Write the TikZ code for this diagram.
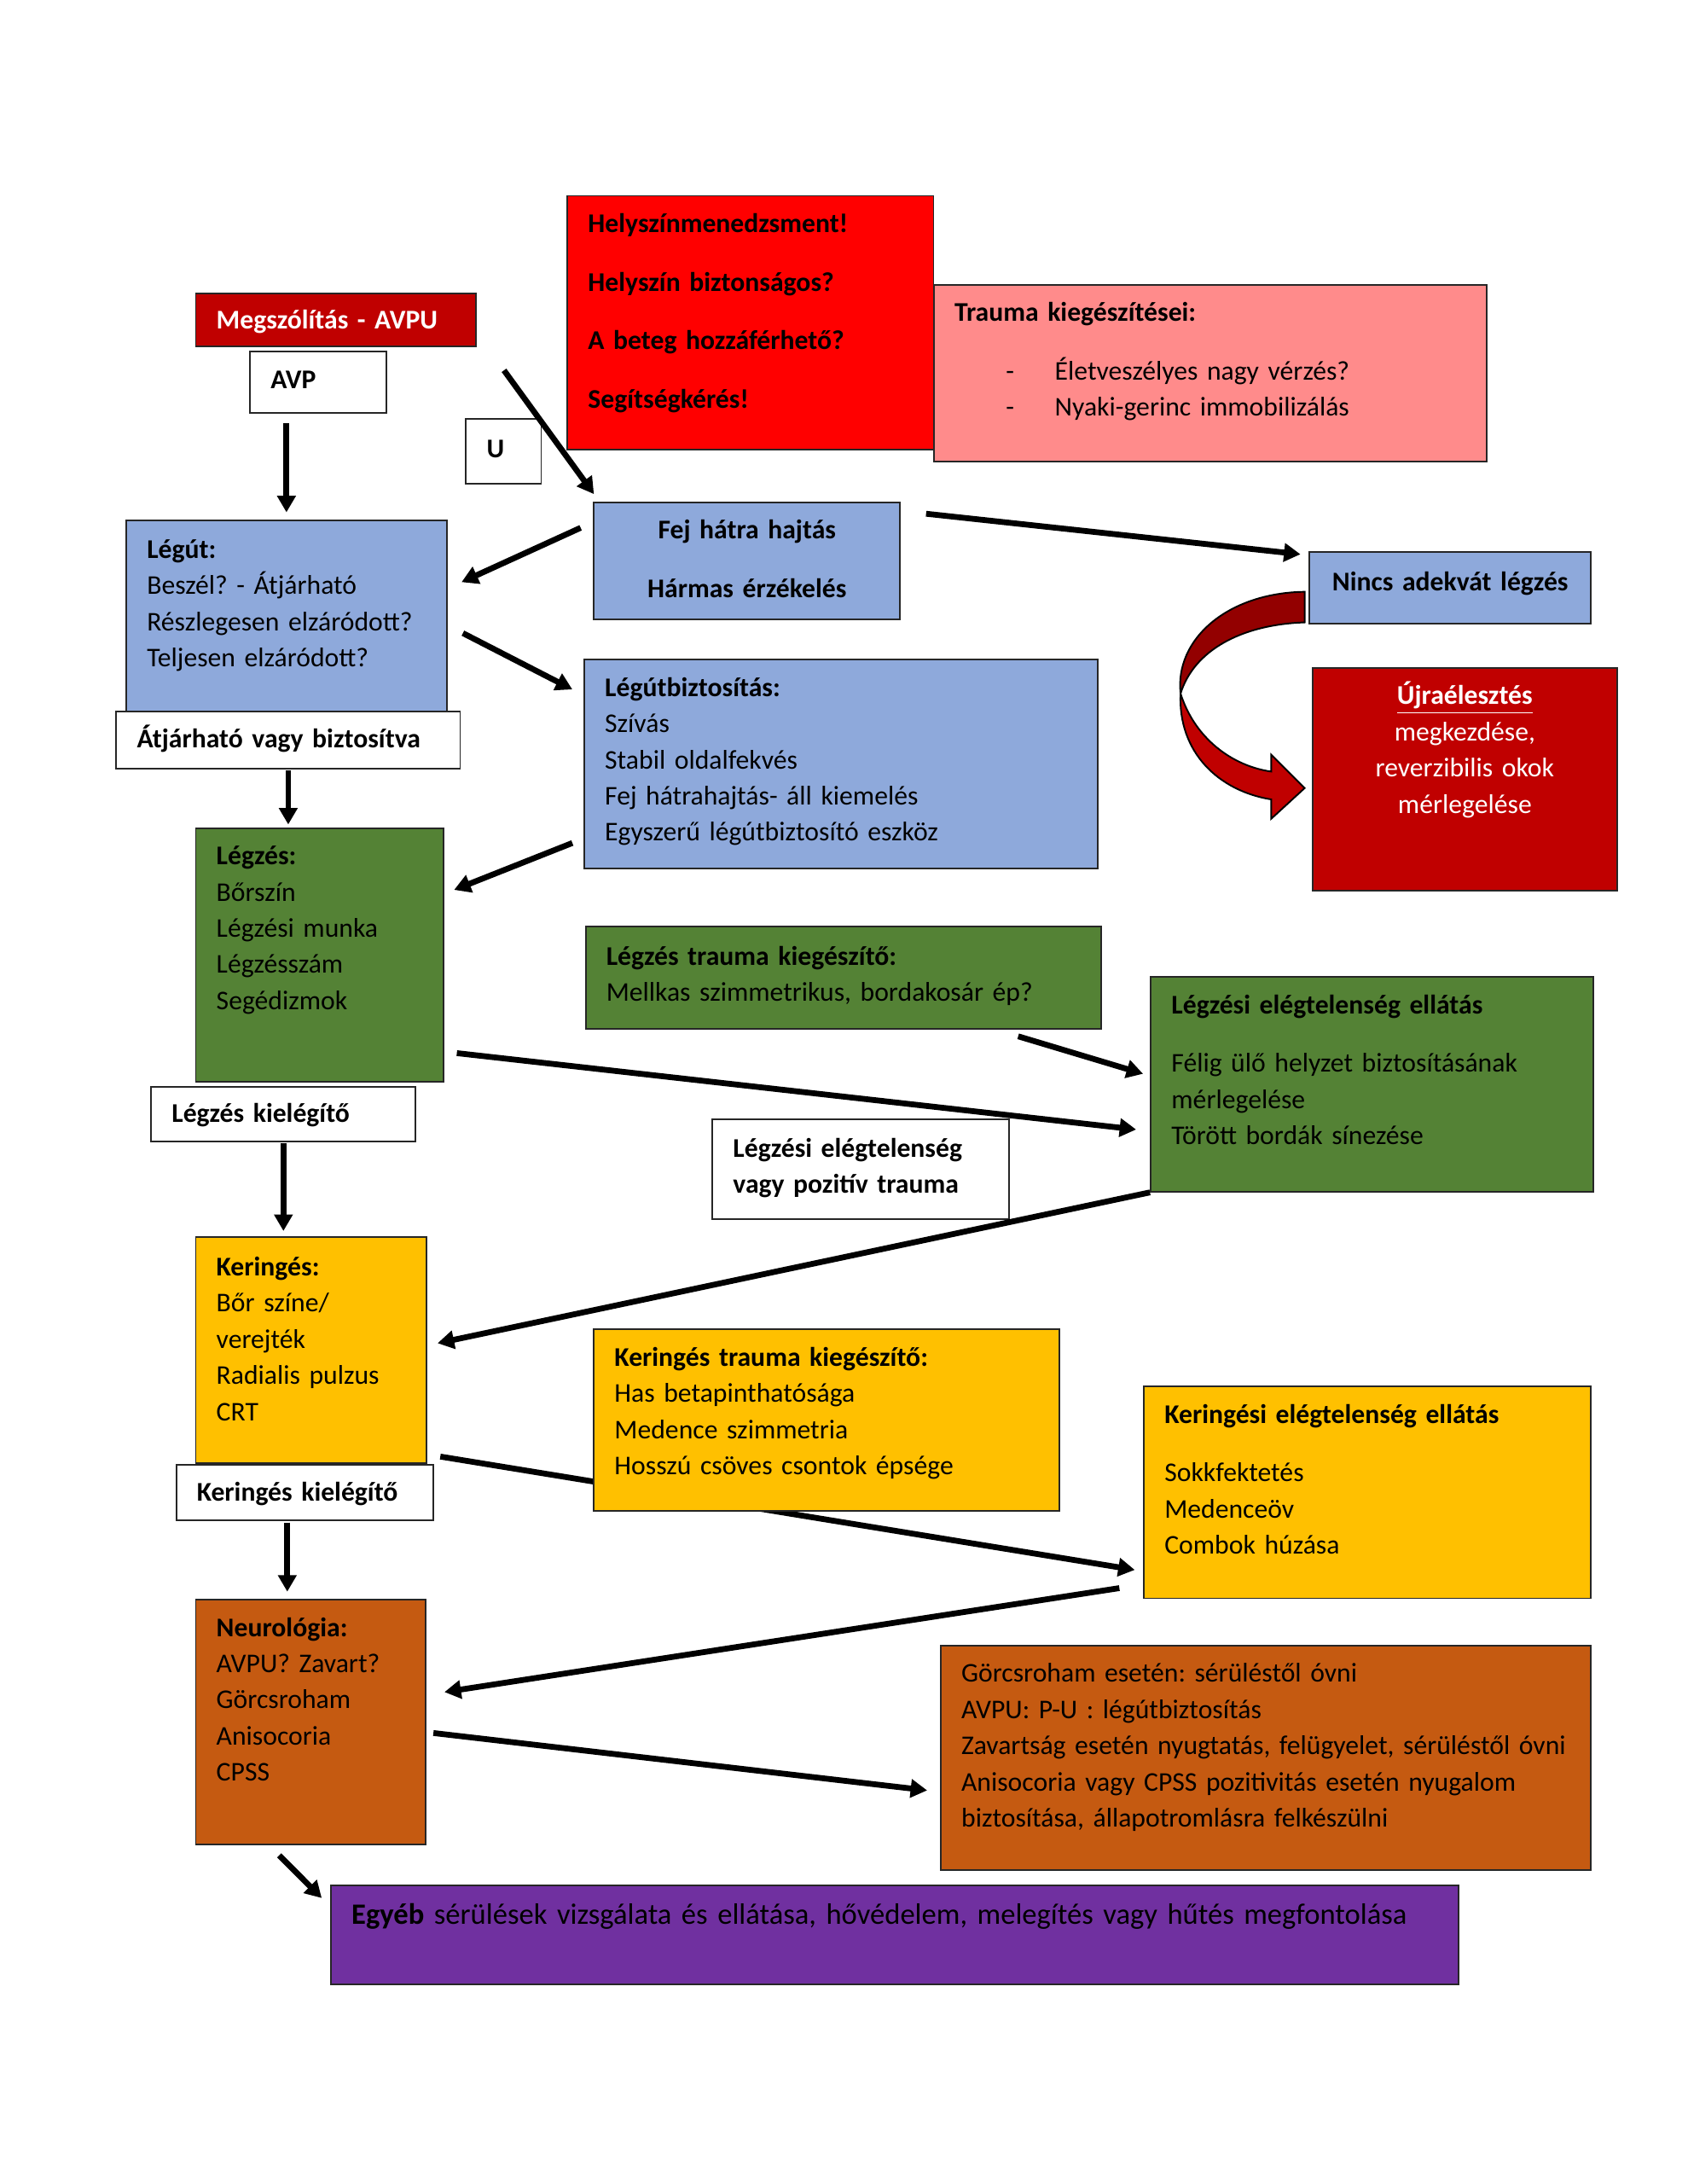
\documentclass[tikz,border=0pt]{standalone}
\usepackage{fontspec}
\setmainfont{Carlito}
\usetikzlibrary{arrows.meta, calc}
\definecolor{sotetpiros}{HTML}{C00000}
\definecolor{piros}{HTML}{FF0000}
\definecolor{rozsa}{HTML}{FF8B8B}
\definecolor{kek}{HTML}{8EA9DB}
\definecolor{zold}{HTML}{548235}
\definecolor{sarga}{HTML}{FFC000}
\definecolor{narancs}{HTML}{C55A11}
\definecolor{lila}{HTML}{7030A0}
\definecolor{bordo}{HTML}{930000}
\hyphenpenalty=10000
\exhyphenpenalty=10000
\frenchspacing

\begin{document}
\begin{tikzpicture}[x=1pt, y=-1pt]
                \tikzset{box/.style = {draw=black!85, line width=0.6pt, anchor=north west, align=left,
                        inner xsep=7.5pt, inner ysep=0pt, text height=13.3pt,
                        font=\fontsize{9.8}{13.13}\selectfont}}
                \tikzset{arr/.style = {-{Triangle[length=6pt,width=6.5pt]}, line width=2.1pt}}

                \fill[white] (0,0) rectangle (612,792);
                \useasboundingbox (0,0) rectangle (612,792);

                \node[box, fill=sotetpiros, text=white, text width=86.5pt, text height=12.8pt, text depth=6.4pt] (megsz) at (70.7,106.1) {\textbf{Megszólítás - AVPU}};
                \node[box, fill=white, text width=34.5pt, text depth=8.9pt] (avp) at (90.4,127.3) {\textbf{AVP}};
                \node[box, fill=white, text width=12.3pt, text height=14.3pt, text depth=9.4pt] (ubox) at (168.7,151.5) {\textbf{U}};

                \node[box, fill=piros, text width=117.8pt, text depth=78.6pt, font=\bfseries\fontsize{9.8}{21.2}\selectfont] (helyszin) at (205.5,70.7)
                    {Helyszínmenedzsment!\\Helyszín biztonságos?\\A beteg hozzáférhető?\\Segítségkérés!};
                \node[box, fill=rozsa, text width=185.5pt, text depth=50.8pt] (trauma) at (338.4,103)
                    {\textbf{Trauma kiegészítései:}\\[8.1pt]
                     \hspace*{18.7pt}\makebox[17.7pt][l]{-}Életveszélyes nagy vérzés?\\
                     \hspace*{18.7pt}\makebox[17.7pt][l]{-}Nyaki-gerinc immobilizálás};

                \node[box, fill=kek, align=center, text width=96.1pt, text depth=29.1pt, font=\bfseries\fontsize{9.8}{21.2}\selectfont] (fej) at (215.1,181.8)
                    {Fej hátra hajtás\\Hármas érzékelés};
                \node[box, fill=kek, text width=101.2pt, text height=13.8pt, text depth=56.4pt] (legut) at (45.5,188.4)
                    {\textbf{Légút:}\\Beszél? - Átjárható\\Részlegesen elzáródott?\\Teljesen elzáródott?};
                \node[box, fill=white, text width=109.7pt, text depth=7.4pt] (atjar) at (41.9,257.6) {\textbf{Átjárható vagy biztosítva}};
                \node[box, fill=kek, text width=171.3pt, text depth=62.5pt] (legutb) at (211.6,238.9)
                    {\textbf{Légútbiztosítás:}\\Szívás\\Stabil oldalfekvés\\Fej hátrahajtás- áll kiemelés\\Egyszerű légútbiztosító eszköz};
                \node[box, fill=kek, align=center, text width=87pt, text height=13.8pt, text depth=12pt] (nincs) at (474.7,200) {\textbf{Nincs adekvát légzés}};
                \node[box, fill=sotetpiros, text=white, align=center, text width=95.6pt, text depth=67.5pt] (ujra) at (475.7,241.9)
                    {\textbf{\underline{Újraélesztés}}\\megkezdése,\\reverzibilis okok\\mérlegelése};

                % curved arrow
                \draw[fill=bordo, line width=0.6pt] (473.2,214.6) .. controls (445,215) and (426,232) .. (428.2,251.5)
                    .. controls (433,236) and (450,226.5) .. (473.2,225.7) -- cycle;
                \draw[fill=sotetpiros, line width=0.6pt] (428.2,251.5) .. controls (427.2,272.7) and (441.9,286.8) .. (461.1,289.9)
                    -- (461.1,296.9) -- (473.2,285.8) -- (461.1,273.7) -- (461.1,279.8)
                    .. controls (446.9,277.8) and (433.3,267.7) .. (428.2,251.5) -- cycle;

                \node[box, fill=zold, text width=74.9pt, text depth=78.6pt] (legzes) at (70.7,300)
                    {\textbf{Légzés:}\\Bőrszín\\Légzési munka\\Légzésszám\\Segédizmok};
                \node[box, fill=white, text width=81pt, text height=12.8pt, text depth=6.9pt] (lkiel) at (54.5,393.9) {\textbf{Légzés kielégítő}};
                \node[box, fill=zold, text width=171.9pt, text height=13.9pt, text depth=23pt] (ltrauma) at (212.1,335.8)
                    {\textbf{Légzés trauma kiegészítő:}\\Mellkas szimmetrikus, bordakosár ép?};
                \node[box, fill=zold, text width=145.6pt, text depth=64.5pt] (lellat) at (417.1,354)
                    {\textbf{Légzési elégtelenség ellátás}\\[8.1pt]Félig ülő helyzet biztosításának\\mérlegelése\\Törött bordák sínezése};
                \node[box, fill=white, text width=92.5pt, text height=13.8pt, text depth=22.6pt] (lpoz) at (258.1,405.5)
                    {\textbf{Légzési elégtelenség}\\\textbf{vagy pozitív trauma}};

                \node[box, fill=sarga, text width=68.8pt, text height=13.9pt, text depth=67.9pt] (kering) at (70.7,448.4)
                    {\textbf{Keringés:}\\Bőr színe/\\verejték\\Radialis pulzus\\CRT};
                \node[box, fill=white, text width=78.4pt, text depth=6.9pt] (kkiel) at (63.6,530.8) {\textbf{Keringés kielégítő}};
                \node[box, fill=sarga, text width=147.1pt, text depth=63.5pt] (kellat) at (414.6,502.5)
                    {\textbf{Keringési elégtelenség ellátás}\\[8.1pt]Sokkfektetés\\Medenceöv\\Combok húzása};
                \draw[arr] ($(kering.south east)+(4.6,-2.6)$) -- ($(kellat.south west)+(-3,-10.6)$);
                \node[box, fill=sarga, text width=153.7pt, text depth=52.4pt] (ktrauma) at (215.1,481.8)
                    {\textbf{Keringés trauma kiegészítő:}\\Has betapinthatósága\\Medence szimmetria\\Hosszú csöves csontok épsége};

                \node[box, fill=narancs, text width=68.3pt, text height=13.4pt, text depth=75.5pt] (neuro) at (70.7,579.7)
                    {\textbf{Neurológia:}\\AVPU? Zavart?\\Görcsroham\\Anisocoria\\CPSS};
                \node[box, fill=narancs, text width=220.8pt, text depth=68pt] (nellat) at (340.9,596.4)
                    {Görcsroham esetén: sérüléstől óvni\\AVPU: P-U : légútbiztosítás\\Zavartság esetén nyugtatás, felügyelet, sérüléstől óvni\\Anisocoria vagy CPSS pozitivitás esetén nyugalom\\biztosítása, állapotromlásra felkészülni};
                \node[box, fill=lila, text width=394pt, text height=14.3pt, text depth=21.6pt, font=\fontsize{10.7}{13}\selectfont] (egyeb) at (119.7,683.3)
                    {\textbf{Egyéb} sérülések vizsgálata és ellátása, hővédelem, melegítés vagy hűtés megfontolása};

                % arrows
                \draw[arr, shorten <=3.5pt, shorten >=2.6pt] (legut.north |- avp.south) -- (legut.north);
                \coordinate (ustart) at (182.8,134.3);
                \draw[arr, shorten >=2pt] (ustart) -- ($(fej.north west)+(1.5,-1)$);
                \draw[arr] ($(fej.north west)+(-4.5,9.6)$) -- ($(legut.north east)+(5.1,22.7)$);
                \draw[arr] ($(fej.north east)+(9.1,4.5)$) -- ($(nincs.north west)+(-3,1)$);
                \draw[arr] ($(legut.east)+(5.6,5.8)$) -- ($(legutb.north west)+(-4,11.1)$);
                \draw[arr, shorten <=0.5pt, shorten >=1pt] (atjar.south) -- (atjar.south |- legzes.north);
                \draw[arr] ($(legutb.south west)+(-4,-9.6)$) -- ($(legzes.north east)+(3.5,22.7)$);
                \draw[arr] ($(legzes.south east)+(4.5,-10.6)$) -- ($(lellat.south west)+(-5,-22.8)$);
                \draw[arr] ($(ltrauma.south east)+(-30.3,2.5)$) -- ($(lellat.north west)+(-2.5,35.4)$);
                \draw[arr, shorten <=0.5pt, shorten >=2pt] (lkiel.south) -- (lkiel.south |- kering.north);
                \draw[arr] (lellat.south west) -- ($(kering.east)+(3.6,-2.5)$);
                \draw[arr] ($(kkiel.south)+(-6.4,0.5)$) -- ($(kkiel.south |- neuro.north)+(-6.4,-2.5)$);
                \draw[arr] ($(kellat.south west)+(-8.6,-4)$) -- ($(neuro.north east)+(6.6,33.9)$);
                \draw[arr] ($(neuro.east)+(2.6,4)$) -- ($(nellat.west)+(-4.6,11.9)$);
                \draw[arr] ($(neuro.south)+(-11.4,3.6)$) -- ($(egyeb.north west)+(-3,5)$);

\end{tikzpicture}
\end{document}
